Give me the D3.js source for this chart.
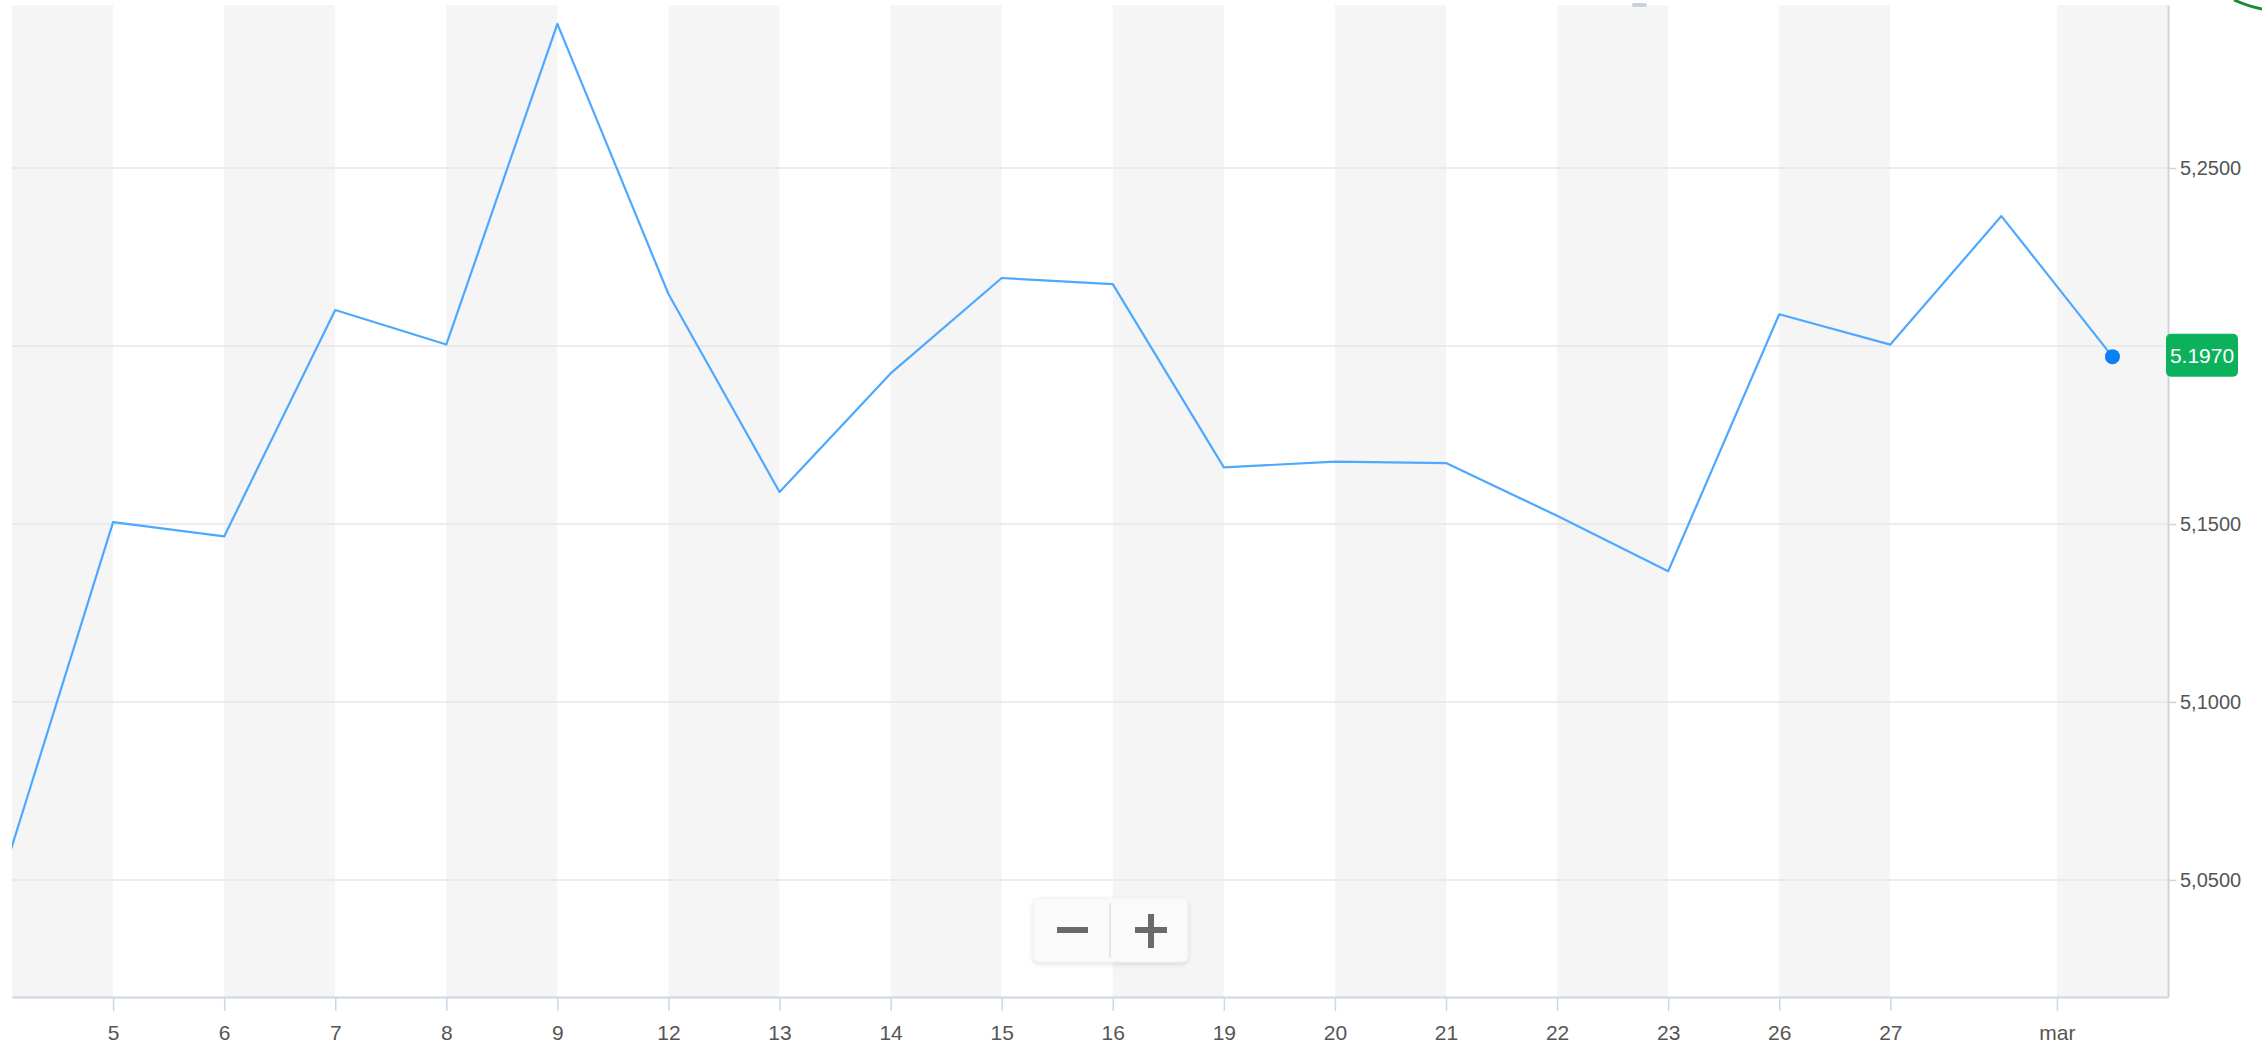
<!DOCTYPE html>
<html><head><meta charset="utf-8">
<script src="https://cdn.jsdelivr.net/npm/d3@7"></script>
<style>body{margin:0;background:#fff;overflow:hidden} svg{display:block}</style>
</head><body>
<svg id="c" width="2262" height="1044"></svg>
<script>
// ---- data ----
const dayLabels = ["2","5","6","7","8","9","12","13","14","15","16","19","20","21","22","23","26","27","28","1"];
const values = [5.0505,5.1505,5.1465,5.2101,5.2004,5.2905,5.2146,5.1590,5.1923,5.2191,5.2174,5.1659,5.1675,5.1671,5.1523,5.1367,5.2089,5.2004,5.2365,5.1970];
const tickPos = [1,2,3,4,5,6,7,8,9,10,11,12,13,14,15,16,17,18.5];
const tickLabels = ["5","6","7","8","9","12","13","14","15","16","19","20","21","22","23","26","27","mar"];
const yTicks = [5.05,5.10,5.15,5.20,5.25];
const lastValue = 5.1970;

// ---- layout ----
const L = 12, R = 2168, T = 5, B = 997;
const FONT = "'Liberation Sans', Arial, sans-serif";
const svg = d3.select("#c");
const x = d3.scaleLinear().domain([0.09, 19.5]).range([L, R]);
const y = d3.scaleLinear().domain([5.0171, 5.2958]).range([B, T]);
const loc = d3.formatLocale({decimal: ",", thousands: ".", grouping: [3], currency: ["", ""]});
const fmt = loc.format(".4f");

const defs = svg.append("defs");
defs.append("clipPath").attr("id","clip").append("rect")
  .attr("x", L).attr("y", T).attr("width", R - L).attr("height", B - T);
const f = defs.append("filter").attr("id","sh").attr("x","-20%").attr("y","-20%").attr("width","140%").attr("height","160%");
f.append("feDropShadow").attr("dx",0).attr("dy",2).attr("stdDeviation",2).attr("flood-color","#000").attr("flood-opacity",0.12);

// bands
const bounds = [x.domain()[0], ...tickPos, x.domain()[1]];
const bands = d3.range(bounds.length - 1).map(k => ({a: bounds[k], b: bounds[k+1], k}));
svg.append("g").selectAll("rect").data(bands).join("rect")
  .attr("x", d => x(d.a)).attr("width", d => x(d.b) - x(d.a))
  .attr("y", T).attr("height", B - T)
  .attr("fill", d => d.k % 2 === 0 ? "#f5f5f5" : "#ffffff");

// gridlines
svg.append("g").selectAll("line").data(yTicks).join("line")
  .attr("x1", L).attr("x2", R).attr("y1", d => y(d)).attr("y2", d => y(d))
  .attr("stroke", "#e6e6e6").attr("stroke-width", 1.5);

// x axis
const xa = svg.append("g").attr("transform", `translate(0,${B})`)
  .call(d3.axisBottom(x).tickValues(tickPos).tickFormat((d,i) => tickLabels[i]).tickSize(14).tickSizeOuter(0).tickPadding(14));
xa.select(".domain").attr("stroke", "#ccd6eb").attr("stroke-width", 2);
xa.selectAll(".tick line").attr("stroke", "#ccd6eb").attr("stroke-width", 1.5);
xa.selectAll(".tick text").attr("fill", "#555").attr("font-size", 21).attr("font-family", FONT);

// y axis (label hidden where the last-value badge sits, as in the reference)
const by = y(lastValue);
const ya = svg.append("g").attr("transform", `translate(${R},0)`)
  .call(d3.axisRight(y).tickValues(yTicks)
    .tickFormat(d => Math.abs(y(d) - by) < 25 ? "" : fmt(d))
    .tickSize(8).tickSizeOuter(0).tickPadding(4));
ya.select(".domain").attr("stroke", "#cfd3d8").attr("stroke-width", 2);
ya.selectAll(".tick line").attr("stroke", "#cfd3d8").attr("stroke-width", 1.5);
ya.selectAll(".tick text").attr("fill", "#555").attr("font-size", 20).attr("font-family", FONT);

// line
const line = d3.line().x((d,i) => x(i)).y(d => y(d));
svg.append("path").datum(values).attr("clip-path", "url(#clip)")
  .attr("d", line).attr("fill", "none").attr("stroke", "#4da8ff").attr("stroke-width", 2.2)
  .attr("stroke-linejoin", "round");

// last point marker
const li = values.length - 1;
svg.append("circle").attr("cx", x(li)).attr("cy", y(values[li])).attr("r", 7.5).attr("fill", "#0a80f5");

// badge
svg.append("rect").attr("x", R - 2).attr("y", by - 23).attr("width", 72).attr("height", 43).attr("rx", 5)
  .attr("fill", "#0bb25b");
svg.append("text").attr("x", R + 34).attr("y", by - 1).attr("dy", "0.35em").attr("text-anchor", "middle")
  .attr("fill", "#fff").attr("font-size", 21).attr("font-family", FONT)
  .text(d3.format(".4f")(lastValue));

// zoom buttons
const zb = svg.append("g");
zb.append("rect").attr("x", 1033).attr("y", 898).attr("width", 155).attr("height", 64).attr("rx", 6)
  .attr("fill", "#fafafa").attr("stroke", "#efefef").attr("filter", "url(#sh)");
zb.append("line").attr("x1", 1110).attr("x2", 1110).attr("y1", 903).attr("y2", 958).attr("stroke", "#e2e2e2").attr("stroke-width", 1.5);
zb.append("rect").attr("x", 1057).attr("y", 927).attr("width", 31).attr("height", 6).attr("fill", "#6a6a6a");
zb.append("rect").attr("x", 1135).attr("y", 927).attr("width", 32).attr("height", 6).attr("fill", "#6a6a6a");
zb.append("rect").attr("x", 1148).attr("y", 914).attr("width", 6).attr("height", 34).attr("fill", "#6a6a6a");

// small top decorations
svg.append("rect").attr("x", 1632).attr("y", 3).attr("width", 15).attr("height", 4).attr("rx", 2).attr("fill", "#c9d1dc");
svg.append("path").attr("d", "M2234,0 Q2250,7 2262,9").attr("fill", "none").attr("stroke", "#1a8a3a").attr("stroke-width", 3);
</script>
</body></html>
